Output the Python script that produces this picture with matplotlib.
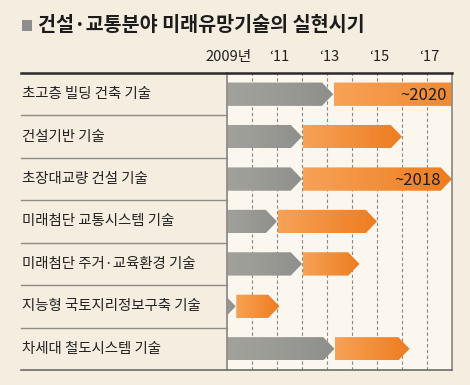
import matplotlib

matplotlib.use("Agg")
import matplotlib.pyplot as plt
import numpy as np
from matplotlib.colors import LinearSegmentedColormap
from matplotlib.patches import Polygon, Rectangle
from matplotlib.lines import Line2D

plt.rcParams["font.family"] = ["Noto Sans CJK KR", "DejaVu Sans"]

TITLE = "건설·교통분야 미래유망기술의 실현시기"
labels = [
    "초고층 빌딩 건축 기술",
    "건설기반 기술",
    "초장대교량 건설 기술",
    "미래첨단 교통시스템 기술",
    "미래첨단 주거·교육환경 기술",
    "지능형 국토지리정보구축 기술",
    "차세대 철도시스템 기술",
]
gray_end = [2013.25, 2012.0, 2012.0, 2011.0, 2012.0, 2009.35, 2013.3]
orange_end = [2020.5, 2016.0, 2018.0, 2015.0, 2014.3, 2011.1, 2016.3]
notes = ["~2020", "", "~2018", "", "", "", ""]
year_ticks = [2009, 2011, 2013, 2015, 2017]
year_labels = ["2009년", "‘11", "‘13", "‘15", "‘17"]

W, H = 470, 385
FIG_BG = "#f4ede0"
PLOT_BG = "#fbf7ef"

gray_cmap = LinearSegmentedColormap.from_list("g", ["#a4a39e", "#9c9c97", "#8e8e8a"])
orange_cmap = LinearSegmentedColormap.from_list("o", ["#f7a257", "#f28f3a", "#ee7c20"])


def px(x, y):
    return x / W, 1 - y / H


def arrow_bar(ax, x0, x1, y, h, tip, cmap, pointed=True):
    if pointed:
        body = max(x1 - tip, x0 - tip)
        verts = [(x0, y - h / 2), (body, y - h / 2), (x1, y), (body, y + h / 2), (x0, y + h / 2)]
    else:
        verts = [(x0, y - h / 2), (x1, y - h / 2), (x1, y + h / 2), (x0, y + h / 2)]
    poly = Polygon(verts, closed=True, facecolor="none", edgecolor="none")
    ax.add_patch(poly)
    grad = np.linspace(0, 1, 256).reshape(1, -1)
    im = ax.imshow(grad, cmap=cmap, extent=(min(x0, x1 - tip), x1, y + h / 2, y - h / 2),
                   aspect="auto", interpolation="bilinear", zorder=2)
    im.set_clip_path(poly)


fig = plt.figure(figsize=(W / 100, H / 100), dpi=100)
fig.patch.set_facecolor(FIG_BG)

left, right, top, bottom = 227, 452, 73, 370
ax = fig.add_axes([left / W, 1 - bottom / H, (right - left) / W, (bottom - top) / H])
ax.set_facecolor(PLOT_BG)
ax.set_xlim(2009, 2018)
ax.set_ylim(len(labels) - 0.5, -0.5)
ax.set_xticks([])
ax.set_yticks([])
for side in ["top", "bottom"]:
    ax.spines[side].set_visible(False)
for side in ["left", "right"]:
    ax.spines[side].set_color("#8f8d89")
    ax.spines[side].set_linewidth(1.3)

for yr in range(2010, 2018):
    ax.axvline(yr, color="#8a8884", lw=0.8, ls=(0, (3, 2.2)), zorder=1)

tip = 0.45
bar_h = 0.55
for i in range(len(labels)):
    arrow_bar(ax, 2009 - 0.5, gray_end[i], i, bar_h, tip, gray_cmap)
    arrow_bar(ax, gray_end[i] + 0.02, orange_end[i], i, bar_h, tip, orange_cmap)
    if notes[i]:
        ax.text(2017.8 if i == 0 else 2017.55, i + 0.03, notes[i], ha="right", va="center",
                fontsize=12, fontweight="medium", color="#1e1e1e", zorder=3)
ax.set_xlim(2009, 2018)
ax.set_ylim(len(labels) - 0.5, -0.5)

# label column
row_h = (bottom - top) / len(labels)
for i, lab in enumerate(labels):
    yc = top + row_h * (i + 0.5)
    fig.text(*px(22, yc), lab, ha="left", va="center", fontsize=10.4, color="#222222")
    if i > 0:
        yb = top + row_h * i
        fig.add_artist(Line2D([21 / W, left / W], [1 - yb / H] * 2, color="#8f8b85", lw=1.0))

fig.add_artist(Line2D([21 / W, right / W], [1 - top / H] * 2, color="#2a2a2a", lw=1.8))
fig.add_artist(Line2D([21 / W, right / W], [1 - bottom / H] * 2, color="#6e6c69", lw=1.2))

# year labels
for yr, lab in zip(year_ticks, year_labels):
    xp = left + (yr - 2009) * (right - left) / 9
    fig.text(*px(xp + 2, 57), lab, ha="center", va="center", fontsize=10.5, color="#222222")

# title
fig.add_artist(Rectangle(px(22, 31), 10 / W, 11 / H, facecolor="#8e8e8e", edgecolor="none"))
fig.text(*px(38, 25), TITLE, ha="left", va="center", fontsize=14.1, fontweight="heavy",
         color="#1c1c1c")

fig.savefig("out.png", dpi=100, facecolor=FIG_BG)
